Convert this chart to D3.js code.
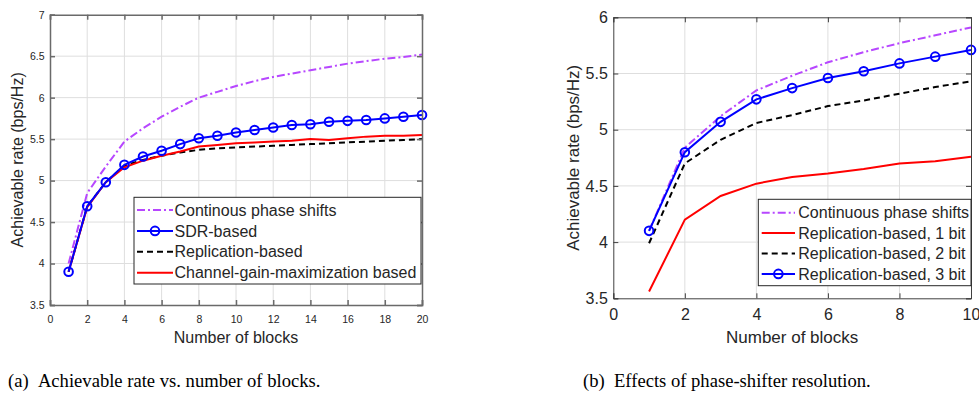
<!DOCTYPE html>
<html>
<head>
<meta charset="utf-8">
<script src="https://cdn.jsdelivr.net/npm/d3@7"></script>
<style>
  body { margin: 0; background: #fff; }
  svg text { font-family: "Liberation Sans", Arial, sans-serif; fill: #262626; }
  .caption { font-family: "Liberation Serif", "Times New Roman", serif; fill: #000; }
</style>
</head>
<body>
<svg id="canvas" width="979" height="407"></svg>
<script>
// ---- panel (a): rate vs number of blocks ----
var blocksA = d3.range(1, 21);
var continuousA = [4.0, 4.85, 5.17, 5.47, 5.63, 5.77, 5.89, 6.0, 6.07, 6.14,
                   6.2, 6.25, 6.29, 6.33, 6.37, 6.41, 6.44, 6.47, 6.49, 6.52];
var sdrA = [3.9, 4.69, 4.98, 5.19, 5.29, 5.36, 5.44, 5.51, 5.54, 5.58,
            5.61, 5.64, 5.67, 5.68, 5.71, 5.72, 5.73, 5.75, 5.77, 5.79];
var replicationA = [3.9, 4.69, 4.98, 5.18, 5.25, 5.3, 5.34, 5.37, 5.39, 5.4,
                    5.41, 5.42, 5.43, 5.44, 5.45, 5.46, 5.47, 5.48, 5.49, 5.5];
var channelGainA = [3.9, 4.68, 4.98, 5.16, 5.24, 5.3, 5.35, 5.41, 5.43, 5.45,
                    5.46, 5.47, 5.48, 5.5, 5.49, 5.51, 5.53, 5.54, 5.54, 5.55];
var labelsA = ["Continous phase shifts", "SDR-based", "Replication-based", "Channel-gain-maximization based"];
var xTicksA = d3.range(0, 21, 2);
var yTicksA = [3.5, 4, 4.5, 5, 5.5, 6, 6.5, 7];

// ---- panel (b): phase-shifter resolution ----
var blocksB = d3.range(1, 11);
var continuousB = [4.1, 4.84, 5.12, 5.35, 5.48, 5.6, 5.69, 5.77, 5.84, 5.91];
var bit1B = [3.56, 4.2, 4.41, 4.52, 4.58, 4.61, 4.65, 4.7, 4.72, 4.76];
var bit2B = [3.99, 4.7, 4.91, 5.06, 5.13, 5.21, 5.26, 5.32, 5.38, 5.43];
var bit3B = [4.1, 4.8, 5.07, 5.27, 5.37, 5.46, 5.52, 5.59, 5.65, 5.71];
var labelsB = ["Continuous phase shifts", "Replication-based, 1 bit", "Replication-based, 2 bit", "Replication-based, 3 bit"];
var xTicksB = d3.range(0, 11, 2);
var yTicksB = [3.5, 4, 4.5, 5, 5.5, 6];

const PURPLE = "rgb(183,71,255)";
const BLUE = "#0000ff";
const RED = "#ff0000";
const BLACK = "#000000";

var styles = {
    purple: {color: PURPLE, dash: "8,3,2,3", marker: false},
    blue: {color: BLUE, dash: null, marker: true},
    black: {color: BLACK, dash: "6,4", marker: false},
    red: {color: RED, dash: null, marker: false}
};

var svg = d3.select("#canvas");

drawPanel({
    left: 50, right: 422, top: 14.7, bottom: 305,
    xDomain: [0, 20], yDomain: [3.5, 7],
    xTicks: xTicksA, yTicks: yTicksA,
    tickFont: 10.5, labelFont: 16, axisColor: "#6a6a6a", axisWidth: 1.5,
    xTickOffset: 18.3, yLabelX: 17, xLabelY: 342.7,
    series: [
        {x: blocksA, y: continuousA, s: styles.purple},
        {x: blocksA, y: replicationA, s: styles.black},
        {x: blocksA, y: channelGainA, s: styles.red},
        {x: blocksA, y: sdrA, s: styles.blue}
    ],
    legend: {x0: 134, x1: 421, y0: 197.3, y1: 284, rowY: 210, rowH: 20.9, lineX0: 137, lineX1: 173, textX: 174.5,
             items: [[labelsA[0], styles.purple], [labelsA[1], styles.blue], [labelsA[2], styles.black], [labelsA[3], styles.red]]}
});

drawPanel({
    left: 613.3, right: 971, top: 17.3, bottom: 298.3,
    xDomain: [0, 10], yDomain: [3.5, 6],
    xTicks: xTicksB, yTicks: yTicksB,
    tickFont: 16, labelFont: 17, axisColor: "#404040", axisWidth: 1,
    xTickOffset: 21.7, yLabelX: 573, xLabelY: 342.7,
    series: [
        {x: blocksB, y: continuousB, s: styles.purple},
        {x: blocksB, y: bit1B, s: styles.red},
        {x: blocksB, y: bit2B, s: styles.black},
        {x: blocksB, y: bit3B, s: styles.blue}
    ],
    legend: {x0: 758.3, x1: 971, y0: 199.3, y1: 285.7, rowY: 212.7, rowH: 20.4, lineX0: 761.7, lineX1: 795, textX: 798.3,
             items: [[labelsB[0], styles.purple], [labelsB[1], styles.red], [labelsB[2], styles.black], [labelsB[3], styles.blue]]}
});

// captions
svg.append("text").attr("class", "caption")
    .attr("x", 8).attr("y", 387).attr("font-size", 18.6)
    .text("(a)\u2002Achievable rate vs. number of blocks.");
svg.append("text").attr("class", "caption")
    .attr("x", 583).attr("y", 387).attr("font-size", 18.6)
    .text("(b)\u2002Effects of phase-shifter resolution.");

/**
 * draw one matlab-style panel: grid, lines, box axes, legend
 * @param cfg
 */
function drawPanel(cfg){
    var x = d3.scaleLinear().domain(cfg.xDomain).range([cfg.left, cfg.right]);
    var y = d3.scaleLinear().domain(cfg.yDomain).range([cfg.bottom, cfg.top]);
    var g = svg.append("g");

    // grid
    g.append("g").selectAll("line").data(cfg.xTicks.slice(1, -1)).join("line")
        .attr("x1", d => x(d)).attr("x2", d => x(d))
        .attr("y1", cfg.top).attr("y2", cfg.bottom)
        .attr("stroke", "#dedede").attr("stroke-width", 1);
    g.append("g").selectAll("line").data(cfg.yTicks.slice(1, -1)).join("line")
        .attr("y1", d => y(d)).attr("y2", d => y(d))
        .attr("x1", cfg.left).attr("x2", cfg.right)
        .attr("stroke", "#dedede").attr("stroke-width", 1);

    // series
    for (var i = 0; i < cfg.series.length; i++){
        var ser = cfg.series[i];
        var pts = ser.x.map((v, j) => [v, ser.y[j]]);
        var line = d3.line().x(d => x(d[0])).y(d => y(d[1]));
        g.append("path").datum(pts)
            .attr("d", line)
            .attr("fill", "none")
            .attr("stroke", ser.s.color)
            .attr("stroke-width", 2)
            .attr("stroke-dasharray", ser.s.dash);
        if (ser.s.marker){
            g.append("g").selectAll("circle").data(pts).join("circle")
                .attr("cx", d => x(d[0])).attr("cy", d => y(d[1]))
                .attr("r", 4.3)
                .attr("fill", "none")
                .attr("stroke", ser.s.color)
                .attr("stroke-width", 2);
        }
    }

    // axes (box with ticks inside)
    var ax = g.append("g");
    var bottomAxis = d3.axisBottom(x).tickValues(cfg.xTicks).tickSize(-5).tickPadding(cfg.xTickOffset - cfg.tickFont * 0.72).tickFormat(d3.format("d"));
    var leftAxis = d3.axisLeft(y).tickValues(cfg.yTicks).tickSize(-5).tickPadding(5.5).tickFormat(d => d);
    var topAxis = d3.axisTop(x).tickValues(cfg.xTicks).tickSize(-5).tickFormat("");
    var rightAxis = d3.axisRight(y).tickValues(cfg.yTicks).tickSize(-5).tickFormat("");

    ax.append("g").attr("transform", "translate(0," + cfg.bottom + ")").call(bottomAxis);
    ax.append("g").attr("transform", "translate(" + cfg.left + ",0)").call(leftAxis);
    ax.append("g").attr("transform", "translate(0," + cfg.top + ")").call(topAxis);
    ax.append("g").attr("transform", "translate(" + cfg.right + ",0)").call(rightAxis);
    ax.selectAll(".domain").attr("stroke", cfg.axisColor).attr("stroke-width", cfg.axisWidth);
    ax.selectAll(".tick line").attr("stroke", cfg.axisColor).attr("stroke-width", cfg.axisWidth);
    ax.selectAll(".tick text")
        .attr("fill", "#262626")
        .attr("font-size", cfg.tickFont)
        .attr("font-family", "Liberation Sans, Arial, sans-serif");

    // axis labels
    g.append("text")
        .attr("x", (cfg.left + cfg.right) / 2).attr("y", cfg.xLabelY)
        .attr("text-anchor", "middle").attr("font-size", cfg.labelFont)
        .text("Number of blocks");
    g.append("text")
        .attr("transform", "translate(" + cfg.yLabelX + "," + (cfg.top + cfg.bottom) / 2 + ") rotate(-90)")
        .attr("dy", "0.35em")
        .attr("text-anchor", "middle").attr("font-size", cfg.labelFont)
        .text("Achievable rate (bps/Hz)");

    // legend
    var L = cfg.legend;
    var lg = g.append("g");
    lg.append("rect")
        .attr("x", L.x0).attr("y", L.y0)
        .attr("width", L.x1 - L.x0).attr("height", L.y1 - L.y0)
        .attr("fill", "#fff").attr("stroke", "#262626").attr("stroke-width", 1);
    for (var k = 0; k < L.items.length; k++){
        var item = L.items[k];
        var ry = L.rowY + k * L.rowH;
        lg.append("line")
            .attr("x1", L.lineX0).attr("x2", L.lineX1)
            .attr("y1", ry).attr("y2", ry)
            .attr("stroke", item[1].color).attr("stroke-width", 2)
            .attr("stroke-dasharray", item[1].dash);
        if (item[1].marker){
            lg.append("circle")
                .attr("cx", (L.lineX0 + L.lineX1) / 2).attr("cy", ry).attr("r", 4.3)
                .attr("fill", "none").attr("stroke", item[1].color).attr("stroke-width", 2);
        }
        lg.append("text")
            .attr("x", L.textX).attr("y", ry).attr("dy", "0.35em")
            .attr("font-size", 16)
            .text(item[0]);
    }
}
</script>
</body>
</html>
